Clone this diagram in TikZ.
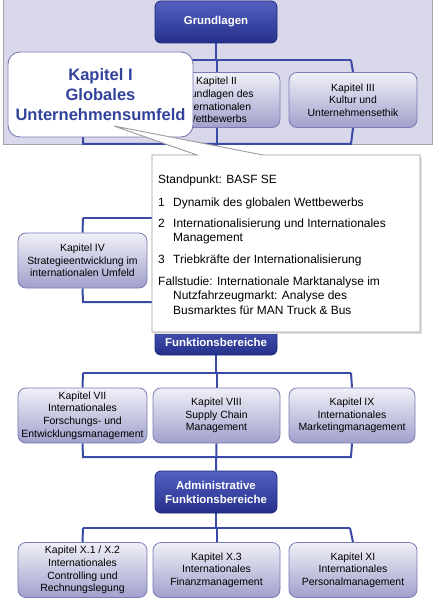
\documentclass[tikz,border=0pt]{standalone}
\usepackage{fontspec}
\setmainfont{Liberation Sans}
\usetikzlibrary{backgrounds}
\definecolor{bandfill}{HTML}{D8D8EA}
\definecolor{bandline}{HTML}{A4A4AC}
\definecolor{linkblue}{HTML}{3A4AA6}
\definecolor{darktop}{HTML}{5360C0}
\definecolor{darkbot}{HTML}{26308C}
\definecolor{darkline}{HTML}{1E2878}
\definecolor{lighttop}{HTML}{F0F0F8}
\definecolor{lightbot}{HTML}{A0A0CC}
\definecolor{lightline}{HTML}{7A7AB4}
\definecolor{kapblue}{HTML}{33439C}
\definecolor{callline}{HTML}{9A9A9A}
\begin{document}
\begin{tikzpicture}[x=1bp,y=-1bp,
  darkbox/.style={draw=darkline,line width=0.8bp,rounded corners=6bp,
    top color=darktop,bottom color=darkbot,text=white,
    font=\fontsize{11.5}{14}\selectfont\bfseries,align=center,
    minimum width=122bp,inner sep=0pt},
  lightbox/.style={draw=lightline,line width=0.8bp,rounded corners=8bp,
    top color=lighttop,bottom color=lightbot,text=black,
    font=\fontsize{10.5}{12.7}\selectfont,align=center,
    minimum height=55bp,inner sep=0pt},
  link/.style={draw=linkblue,line width=2bp},
  calltext/.style={anchor=base west,inner sep=0pt,font=\fontsize{12}{14.5}\selectfont}]
\useasboundingbox (0,0) rectangle (434,600);

% bus coordinates
\coordinate (b1l) at (83,60);  \coordinate (b1r) at (351,60);
\coordinate (b2l) at (83,144); \coordinate (b2r) at (351,144);
\coordinate (b3l) at (83,218); \coordinate (b3r) at (351,218);
\coordinate (b4l) at (83,302); \coordinate (b4r) at (351,302);
\coordinate (b5l) at (83,373); \coordinate (b5r) at (351,373);
\coordinate (b6l) at (83,457); \coordinate (b6r) at (351,457);
\coordinate (b7l) at (83,528); \coordinate (b7r) at (350,528);
\coordinate (k1s) at (83,128);
\coordinate (m2) at (217,218);

% nodes
\node[darkbox,minimum height=42bp] (g) at (216,22) {Grundlagen};
\node[lightbox,minimum width=127bp] (k2) at (216.5,100) {Kapitel II\\Grundlagen des\\Internationalen\\Wettbewerbs};
\node[lightbox,minimum width=128bp] (k3) at (353,100) {Kapitel III\\Kultur und\\Unternehmensethik};
\node[lightbox,minimum width=129bp] (k4) at (82.5,260.5) {Kapitel IV\\Strategieentwicklung im\\internationalen Umfeld};
\node[darkbox,minimum height=37bp] (f) at (216,336.5) {};
\node[inner sep=0pt,text=white,font=\fontsize{11.5}{14}\selectfont\bfseries] (ft) at (216,342.5) {Funktionsbereiche};
\node[lightbox,minimum width=129bp] (k7) at (82.5,415.5) {Kapitel VII\\Internationales\\Forschungs- und\\Entwicklungsmanagement};
\node[lightbox,minimum width=127bp] (k8) at (216.5,415.5) {Kapitel VIII\\Supply Chain\\Management};
\node[lightbox,minimum width=126bp] (k9) at (352,415.5) {Kapitel IX\\Internationales\\Marketingmanagement};
\node[darkbox,minimum height=42bp] (a) at (216,492) {Administrative\\Funktionsbereiche};
\node[lightbox,minimum width=129bp] (k10) at (82.5,570) {Kapitel X.1 / X.2\\Internationales\\Controlling und\\Rechnungslegung};
\node[lightbox,minimum width=127bp] (k103) at (216.5,570) {Kapitel X.3\\Internationales\\Finanzmanagement};
\node[lightbox,minimum width=128bp] (k11) at (353,570) {Kapitel XI\\Internationales\\Personalmanagement};

% background band and connectors (behind boxes)
\begin{scope}[on background layer]
\fill[white] (0,0) rectangle (434,600);
\draw[fill=bandfill,draw=bandline,line width=1bp] (3,0) rectangle (432,145);
\path[link] (g.south) -- (g.south |- b1l);
\path[link] (b1l) -- (b1r);
\path[link] (b1l) -- (k1s);
\path[link] (b1r) -- (k3.north);
\path[link] (k2.north) -- (k2.north |- b1l);
\path[link] (k1s) -- (b2l) -- (b2r) -- (k3.south);
\path[link] (k2.south) -- (k2.south |- b2l);
\path[link] (k2.south |- b2l) -- (m2);
\path[link] (b3l) -- (b3r);
\path[link] (b3l) -- (k4.north);
\path[link] (k4.south) -- (b4l) -- (b4r);
\path[link] (f.north) -- (f.north |- b4l);
\path[link] (f.south) -- (f.south |- b5l);
\path[link] (b5l) -- (b5r);
\path[link] (b5l) -- (k7.north);
\path[link] (b5r) -- (k9.north);
\path[link] (k8.north) -- (k8.north |- b5l);
\path[link] (k7.south) -- (b6l) -- (b6r) -- (k9.south);
\path[link] (k8.south) -- (a.north);
\path[link] (a.south) -- (a.south |- b7l);
\path[link] (b7l) -- (b7r);
\path[link] (b7l) -- (k10.north);
\path[link] (b7r) -- (k11.north);
\path[link] (k103.north) -- (k103.north |- b7l);
\end{scope}

% Kapitel I callout
\node[draw=lightline,line width=0.9bp,fill=white,rounded corners=12bp,
  minimum width=185bp,minimum height=85bp,inner sep=0pt,align=center,
  text=kapblue,font=\fontsize{16.6}{20}\selectfont\bfseries] (k1) at (100.5,94.5)
  {Kapitel I\\Globales\\Unternehmensumfeld};

% detail callout with pointer
\coordinate (apex) at (114,126);
\coordinate (cl) at (152,155);
\coordinate (cr) at (420,332);
\fill[black!12] (154,157) rectangle (422,334);
\filldraw[fill=white,draw=callline,line width=0.9bp]
  (cl) -- (197,155) -- (apex) -- (263,155) -- (cr |- cl) -- (cr) -- (cl |- cr) -- cycle;
\node[calltext] (t0) at (158,183) {Standpunkt: BASF SE};
\node[calltext] (t1n) at (158,206) {1};
\node[calltext] (t1) at (173,206) {Dynamik des globalen Wettbewerbs};
\node[calltext] (t2n) at (158,227) {2};
\node[calltext] (t2) at (173,227) {Internationalisierung und Internationales};
\node[calltext] (t2b) at (173,241.5) {Management};
\node[calltext] (t3n) at (158,263) {3};
\node[calltext] (t3) at (173,263) {Triebkräfte der Internationalisierung};
\node[calltext] (t4) at (158,285) {Fallstudie: Internationale Marktanalyse im};
\node[calltext] (t4b) at (173,299.5) {Nutzfahrzeugmarkt: Analyse des};
\node[calltext] (t4c) at (173,314) {Busmarktes für MAN Truck \& Bus};
\end{tikzpicture}
\end{document}
